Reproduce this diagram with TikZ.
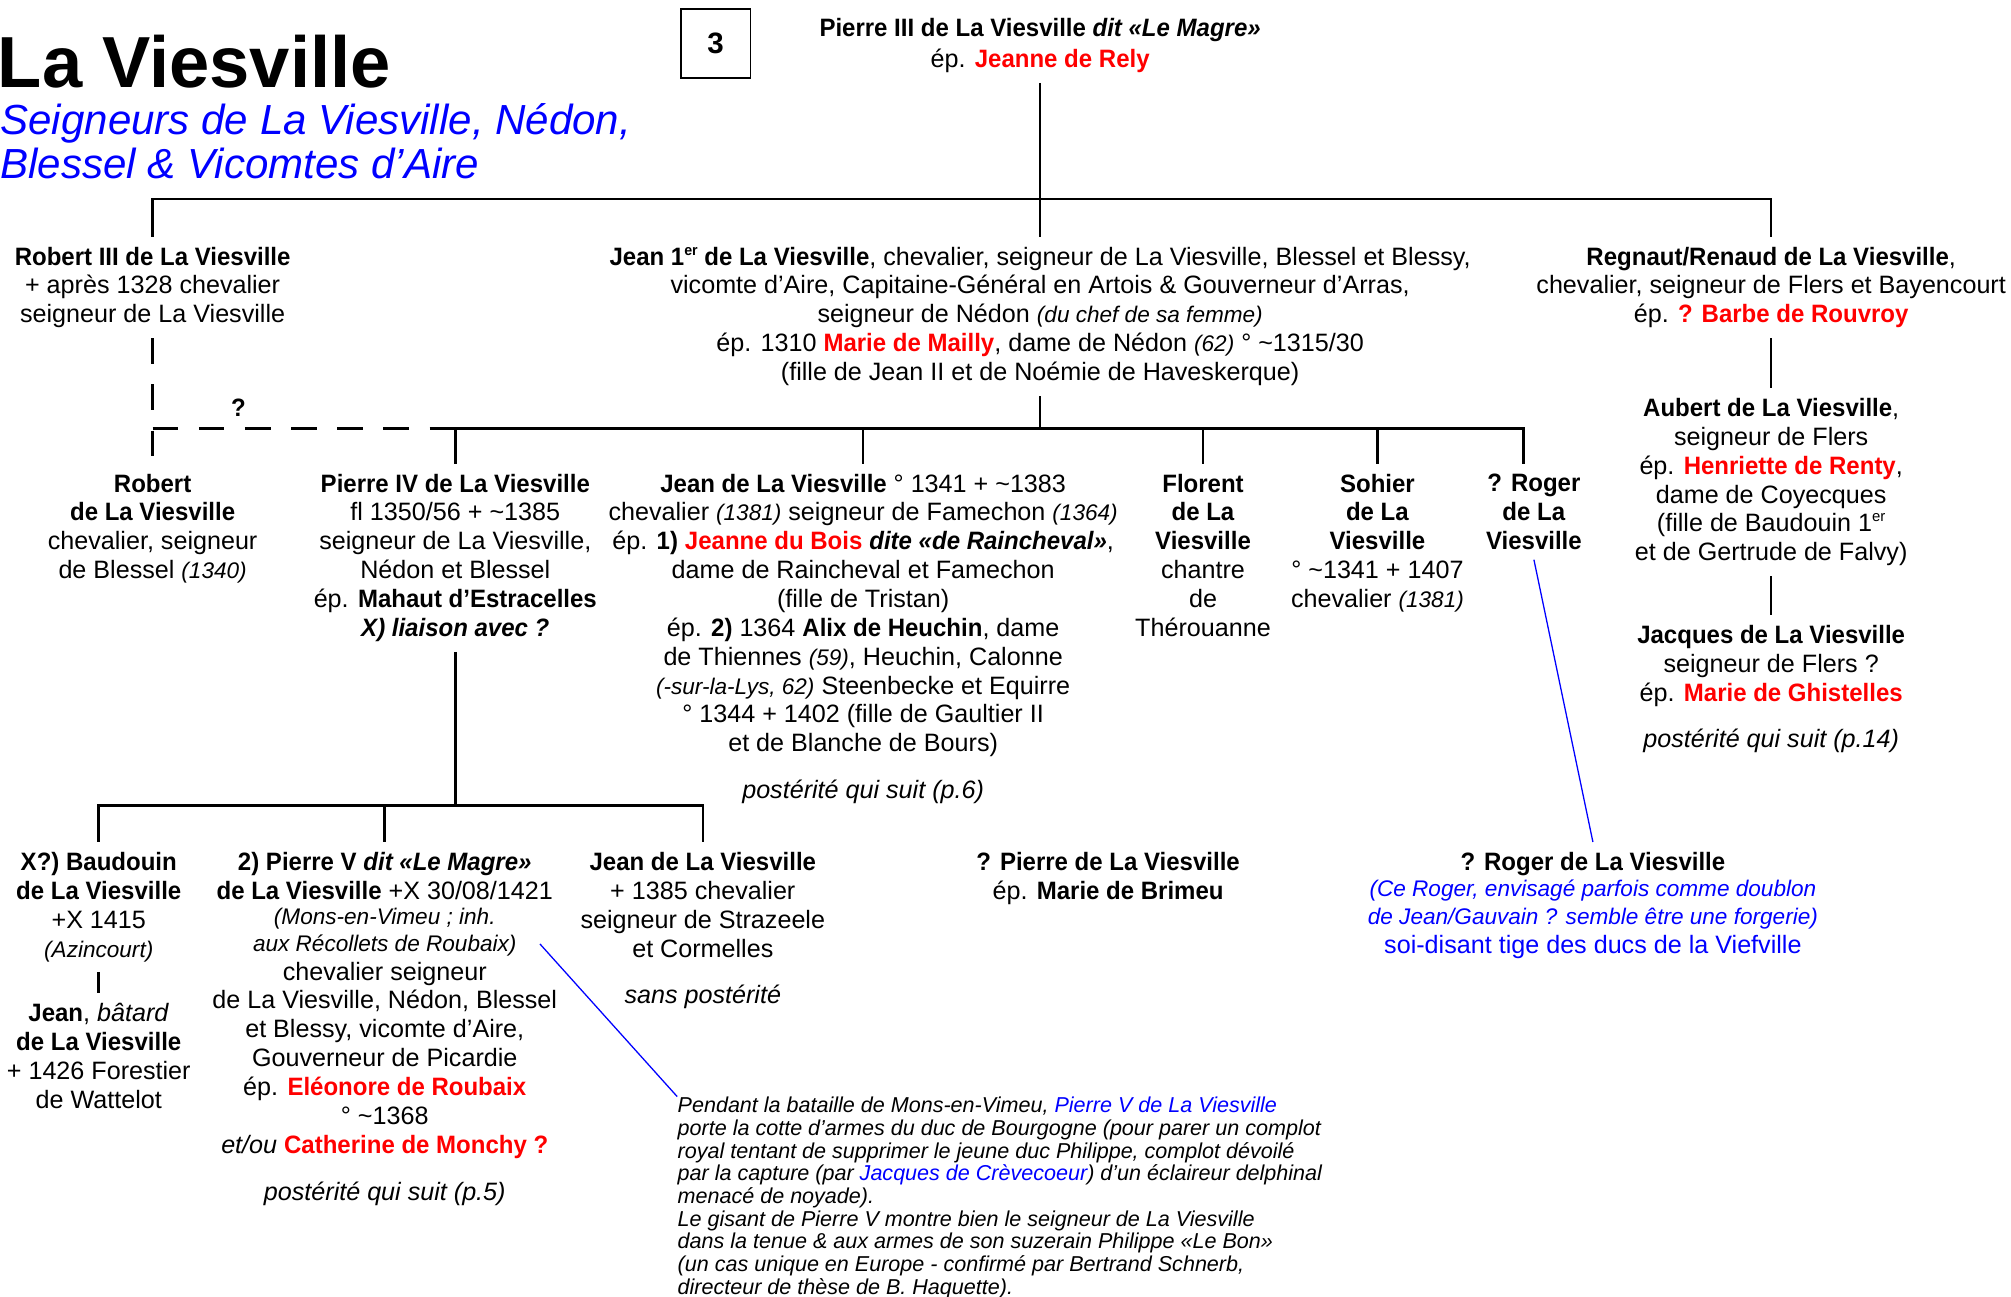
\documentclass[tikz,border=0pt]{standalone}
\usepackage{fontspec}
\setmainfont{Liberation Sans}[BoldFeatures={FakeStretch=0.955}, BoldItalicFeatures={FakeStretch=0.955}]
\newfontfamily\grandtitre{Liberation Sans}
\usepackage{tikz}

\newcommand{\corps}{\fontsize{9.8}{11.25}\selectfont}
\newcommand{\petit}[1]{{\fontsize{8.8}{9}\selectfont\itshape #1}}
\newcommand{\epouse}[1]{\textcolor{red}{\textbf{#1}}}
\newcommand{\er}{\raisebox{0.75ex}{\fontsize{5.8}{6}\selectfont er}}

\begin{document}
\begin{tikzpicture}[x=0.5pt, y=-0.5pt,
  personne/.style={align=center, inner sep=0pt, outer sep=4pt, anchor=north, font=\corps},
  lien/.style={line width=1pt},
  doute/.style={line width=1pt, dash pattern=on 10pt off 8pt},
  renvoi/.style={blue, line width=0.5pt}]
\useasboundingbox (0, 0) rectangle (1568, 1011);

%title
\node [anchor=base west, inner sep=0pt, font=\grandtitre\fontsize{28.2}{30}\selectfont\bfseries] (titre) at (-2, 68) {La Viesville};
\node [anchor=north west, inner sep=0pt, align=left, blue, font=\fontsize{16.4}{17.5}\selectfont\itshape] (soustitre) at (0, 80) {Seigneurs de La Viesville, Nédon,\\Blessel \& Vicomtes d’Aire};
\node [draw, line width=0.6pt, minimum size=27pt, inner sep=0pt, font=\grandtitre\fontsize{11.5}{12}\selectfont\bfseries] (page) at (558, 34) {3};

%generation 1
\node [personne] (p3) at (811, 6.5) {\textbf{Pierre III de La Viesville \textit{dit «Le Magre»}}\\[0.7pt]ép. \epouse{Jeanne de Rely}};

%generation 2
\node [personne] (robert3) at (119, 184.5) {\textbf{Robert III de La Viesville}\\+ après 1328 chevalier\\seigneur de La Viesville};
\node [personne] (jean1) at (811, 184.5) {\textbf{Jean 1\er{} de La Viesville}, chevalier, seigneur de La Viesville, Blessel et Blessy,\\vicomte d’Aire, Capitaine-Général en Artois \& Gouverneur d’Arras,\\seigneur de Nédon \petit{(du chef de sa femme)}\\ép. 1310 \epouse{Marie de Mailly}, dame de Nédon \petit{(62)} ° \textasciitilde1315/30\\(fille de Jean II et de Noémie de Haveskerque)};
\node [personne] (regnaut) at (1381, 184.5) {\textbf{Regnaut/Renaud de La Viesville},\\chevalier, seigneur de Flers et Bayencourt\\ép. \epouse{? Barbe de Rouvroy}};
\node [personne] (aubert) at (1381, 302.5) {\textbf{Aubert de La Viesville},\\seigneur de Flers\\ép. \epouse{Henriette de Renty},\\dame de Coyecques\\(fille de Baudouin 1\er\\et de Gertrude de Falvy)};
\node [personne] (jacques) at (1381, 479.5) {\textbf{Jacques de La Viesville}\\seigneur de Flers ?\\ép. \epouse{Marie de Ghistelles}\\[7pt]\textit{postérité qui suit (p.14)}};

%generation 3
\node [personne] (robert) at (119, 361.5) {\textbf{Robert}\\\textbf{de La Viesville}\\chevalier, seigneur\\de Blessel \petit{(1340)}};
\node [personne] (pierre4) at (355, 361.5) {\textbf{Pierre IV de La Viesville}\\fl 1350/56 + \textasciitilde1385\\seigneur de La Viesville,\\Nédon et Blessel\\ép. \textbf{Mahaut d’Estracelles}\\\textbf{\textit{X) liaison avec ?}}};
\node [personne] (jean) at (673, 361.5) {\textbf{Jean de La Viesville} ° 1341 + \textasciitilde1383\\chevalier \petit{(1381)} seigneur de Famechon \petit{(1364)}\\ép. \textbf{1)} \epouse{Jeanne du Bois} \textbf{\textit{dite «de Raincheval»}},\\dame de Raincheval et Famechon\\(fille de Tristan)\\ép. \textbf{2)} 1364 \textbf{Alix de Heuchin}, dame\\de Thiennes \petit{(59)}, Heuchin, Calonne\\\petit{(-sur-la-Lys, 62)} Steenbecke et Equirre\\° 1344 + 1402 (fille de Gaultier II\\et de Blanche de Bours)\\[7pt]\textit{postérité qui suit (p.6)}};
\node [personne] (florent) at (938, 361.5) {\textbf{Florent}\\\textbf{de La}\\\textbf{Viesville}\\chantre\\de\\Thérouanne};
\node [personne] (sohier) at (1074, 361.5) {\textbf{Sohier}\\\textbf{de La}\\\textbf{Viesville}\\° \textasciitilde1341 + 1407\\chevalier \petit{(1381)}};
\node [personne] (roger) at (1196, 361.5) {\textbf{? Roger}\\\textbf{de La}\\\textbf{Viesville}};
\coordinate (rogerlien) at (1188, 361.5);

%generation 4
\node [personne] (baudouin) at (77, 656.5) {\textbf{X?) Baudouin}\\\textbf{de La Viesville}\\+X 1415\\\petit{(Azincourt)}};
\node [personne] (batard) at (77, 774.5) {\textbf{Jean}, \textit{bâtard}\\\textbf{de La Viesville}\\+ 1426 Forestier\\de Wattelot};
\node [personne] (pierre5) at (300, 656.5) {\textbf{2) Pierre V \textit{dit «Le Magre»}}\\\textbf{de La Viesville} +X 30/08/1421\\[-1.25pt]\petit{(Mons-en-Vimeu ; inh.}\\[-0.75pt]\petit{aux Récollets de Roubaix)}\\[-0.25pt]chevalier seigneur\\de La Viesville, Nédon, Blessel\\et Blessy, vicomte d’Aire,\\Gouverneur de Picardie\\ép. \epouse{Eléonore de Roubaix}\\° \textasciitilde1368\\\textit{et/ou} \epouse{Catherine de Monchy ?}\\[7pt]\textit{postérité qui suit (p.5)}};
\node [personne] (jean2) at (548, 656.5) {\textbf{Jean de La Viesville}\\+ 1385 chevalier\\seigneur de Strazeele\\et Cormelles\\[7pt]\textit{sans postérité}};
\node [personne] (pierre) at (864, 656.5) {\textbf{? Pierre de La Viesville}\\ép. \textbf{Marie de Brimeu}};
\node [personne] (roger2) at (1242, 656.5) {\textbf{? Roger de La Viesville}\\[-1.25pt]\textcolor{blue}{\petit{(Ce Roger, envisagé parfois comme doublon}}\\\textcolor{blue}{\petit{de Jean/Gauvain ? semble être une forgerie)}}\\\textcolor{blue}{soi-disant tige des ducs de la Viefville}};

%note on Pierre V
\node [anchor=north west, inner sep=0pt, align=left, font=\fontsize{8.4}{8.85}\selectfont\itshape] (gisant) at (528, 855) {Pendant la bataille de Mons-en-Vimeu, \textcolor{blue}{Pierre V de La Viesville}\\porte la cotte d'armes du duc de Bourgogne (pour parer un complot\\royal tentant de supprimer le jeune duc Philippe, complot dévoilé\\par la capture (par \textcolor{blue}{Jacques de Crèvecoeur}) d’un éclaireur delphinal\\menacé de noyade).\\Le gisant de Pierre V montre bien le seigneur de La Viesville\\dans la tenue \& aux armes de son suzerain Philippe «Le Bon»\\(un cas unique en Europe - confirmé par Bertrand Schnerb,\\directeur de thèse de B. Haquette).};
\coordinate (recollets) at (421, 736);

%draw lines
\coordinate (barre1) at (811, 155);
\coordinate (barre2) at (811, 334);
\coordinate (barre3) at (353, 628);

\draw [lien] (p3.south) to (jean1.north);
\draw [lien] (robert3.north) -- (robert3.north |- barre1) -- (regnaut.north |- barre1) -- (regnaut.north);
\draw [lien] (regnaut.south) to (aubert.north);
\draw [lien] (aubert.south) to (jacques.north);

\draw [lien] (jean1.south) to (barre2);
\draw [lien] (pierre4.north) -- (pierre4.north |- barre2) -- (rogerlien |- barre2) -- (rogerlien);
\draw [lien] (jean.north |- barre2) to (jean.north);
\draw [lien] (florent.north |- barre2) to (florent.north);
\draw [lien] (sohier.north |- barre2) to (sohier.north);
\draw [doute] (robert3.south) to (robert.north);
\draw [doute] (robert3.south |- barre2) to (pierre4.north |- barre2);
\node [font=\corps\bfseries] (question) at (186, 318) {?};

\draw [lien] (pierre4.south) to (pierre4.south |- barre3);
\draw [lien] (baudouin.north) -- (baudouin.north |- barre3) -- (jean2.north |- barre3) -- (jean2.north);
\draw [lien] (pierre5.north |- barre3) to (pierre5.north);
\draw [lien] (baudouin.south) to (batard.north);

%blue references
\draw [renvoi] (roger.south) to (roger2.north);
\draw [renvoi] (recollets) to (gisant.north west);

\end{tikzpicture}
\end{document}
